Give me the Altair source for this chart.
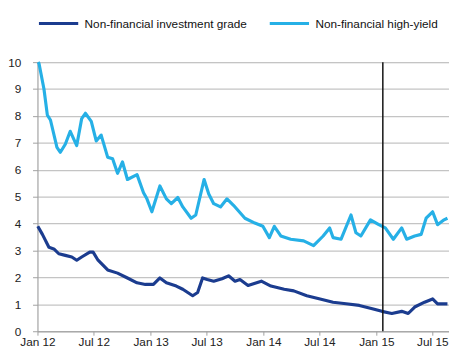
import altair as alt
import pandas as pd

ig_label = "Non-financial investment grade"
hy_label = "Non-financial high-yield"

hy_dates = [
    "2012-01-03", "2012-01-06", "2012-01-22", "2012-02-02", "2012-02-12", "2012-03-04", "2012-03-15",
    "2012-03-31", "2012-04-16", "2012-05-07", "2012-05-23", "2012-06-04", "2012-06-23",
    "2012-07-09", "2012-07-25", "2012-08-15", "2012-08-31", "2012-09-16", "2012-10-02",
    "2012-10-18", "2012-11-18", "2012-12-09", "2012-12-20", "2013-01-05", "2013-01-31",
    "2013-02-21", "2013-03-09", "2013-03-30", "2013-04-15", "2013-05-12", "2013-05-27",
    "2013-06-23", "2013-07-08", "2013-07-24", "2013-08-15", "2013-09-05", "2013-09-26",
    "2013-11-02", "2013-12-04", "2013-12-30", "2014-01-20", "2014-02-05", "2014-02-26",
    "2014-03-30", "2014-05-11", "2014-06-12", "2014-07-13", "2014-08-03", "2014-08-14",
    "2014-09-09", "2014-10-11", "2014-10-27", "2014-11-12", "2014-12-13", "2015-01-09",
    "2015-01-30", "2015-02-25", "2015-03-24", "2015-04-09", "2015-05-05", "2015-05-26",
    "2015-06-11", "2015-07-02", "2015-07-18", "2015-08-08", "2015-08-19",
]
hy_values = [
    10.0, 9.95, 9.0, 8.03, 7.85, 6.83, 6.65,
    6.95, 7.43, 6.9, 7.9, 8.1, 7.8,
    7.07, 7.29, 6.47, 6.41, 5.87, 6.29,
    5.64, 5.82, 5.15, 4.92, 4.44, 5.40,
    4.92, 4.74, 4.97, 4.62, 4.20, 4.32,
    5.64, 5.10, 4.74, 4.62, 4.92, 4.68,
    4.20, 4.02, 3.90, 3.48, 3.90, 3.54,
    3.42, 3.36, 3.18, 3.54, 3.84, 3.48,
    3.42, 4.32, 3.66, 3.54, 4.14, 3.96,
    3.84, 3.42, 3.84, 3.42, 3.54, 3.60,
    4.20, 4.44, 3.96, 4.14, 4.20,
]

ig_dates = [
    "2012-01-02", "2012-01-17", "2012-02-07", "2012-02-23", "2012-03-10", "2012-03-31",
    "2012-04-21", "2012-05-07", "2012-05-23", "2012-06-18", "2012-06-29", "2012-07-15",
    "2012-08-15", "2012-09-16", "2012-10-18", "2012-11-18", "2012-12-15", "2013-01-10",
    "2013-01-31", "2013-02-21", "2013-03-25", "2013-04-15", "2013-05-17", "2013-06-02",
    "2013-06-18", "2013-07-03", "2013-07-24", "2013-08-20", "2013-09-10", "2013-10-01",
    "2013-10-17", "2013-11-12", "2013-12-25", "2014-01-25", "2014-03-09", "2014-04-09",
    "2014-05-21", "2014-07-03", "2014-08-14", "2014-09-25", "2014-11-07", "2014-12-19",
    "2015-01-19", "2015-02-20", "2015-03-24", "2015-04-14", "2015-05-05", "2015-06-06",
    "2015-07-02", "2015-07-18", "2015-08-19",
]
ig_values = [
    3.90, 3.60, 3.12, 3.06, 2.88, 2.82,
    2.76, 2.64, 2.76, 2.94, 2.94, 2.64,
    2.28, 2.16, 1.98, 1.80, 1.74, 1.74,
    1.98, 1.80, 1.68, 1.56, 1.32, 1.44,
    1.98, 1.92, 1.86, 1.95, 2.06, 1.86,
    1.92, 1.70, 1.86, 1.68, 1.56, 1.50,
    1.32, 1.20, 1.08, 1.02, 0.96, 0.84,
    0.74, 0.66, 0.74, 0.66, 0.90, 1.08,
    1.20, 1.02, 1.02,
]

event_date = ["2015-01-22"]
y_ticks = list(range(0, 11))
x_tick_dates = [(2012, 1), (2012, 7), (2013, 1), (2013, 7), (2014, 1), (2014, 7), (2015, 1), (2015, 7)]

df = pd.concat([
    pd.DataFrame({"date": ig_dates, "value": ig_values, "series": ig_label}),
    pd.DataFrame({"date": hy_dates, "value": hy_values, "series": hy_label}),
])
ev = pd.DataFrame({"date": event_date})

x_scale = alt.Scale(domain=[alt.DateTime(year=2012, month=1, date=1),
                            alt.DateTime(year=2015, month=8, date=24)], nice=False)

lines = alt.Chart(df).mark_line(strokeWidth=3.2, interpolate="linear", strokeJoin="round").encode(
    x=alt.X("date:T", scale=x_scale, title=None,
            axis=alt.Axis(values=[alt.DateTime(year=y, month=m, date=1) for y, m in x_tick_dates],
                          format="%b %y", labelFlush=False, grid=False,
                          domainColor="#a0a0a0", tickColor="#a0a0a0", tickSize=4,
                          labelPadding=2, labelFontSize=12, labelColor="#222222")),
    y=alt.Y("value:Q", scale=alt.Scale(domain=[0, 10], nice=False), title=None,
            axis=alt.Axis(values=y_ticks, grid=True, gridColor="#c4c4c4", gridWidth=1.3,
                          domainColor="#a0a0a0", tickColor="#a0a0a0", tickSize=5,
                          labelPadding=12, labelFontSize=12, labelColor="#222222")),
    color=alt.Color("series:N",
                    scale=alt.Scale(domain=[ig_label, hy_label], range=["#1b3c8f", "#26b0e6"]),
                    legend=alt.Legend(title=None, orient="none", direction="horizontal",
                                      legendX=0, legendY=-61, symbolType="stroke",
                                      symbolSize=1600, symbolStrokeWidth=3, labelFontSize=12,
                                      labelColor="#111111", labelOffset=5, columnPadding=16,
                                      labelLimit=400, padding=0)),
)

rule = alt.Chart(ev).mark_rule(color="#111111", strokeWidth=1.5).encode(
    x=alt.X("date:T", scale=x_scale)
)

chart = alt.layer(lines, rule).properties(
    width=419, height=274,
    autosize=alt.AutoSizeParams(type="none"),
    padding={"left": 30, "top": 52, "right": 0, "bottom": 18},
).configure_view(stroke=None).configure(font="Liberation Sans")

chart.save("out.html", embed_options={"renderer": "svg", "actions": False})
